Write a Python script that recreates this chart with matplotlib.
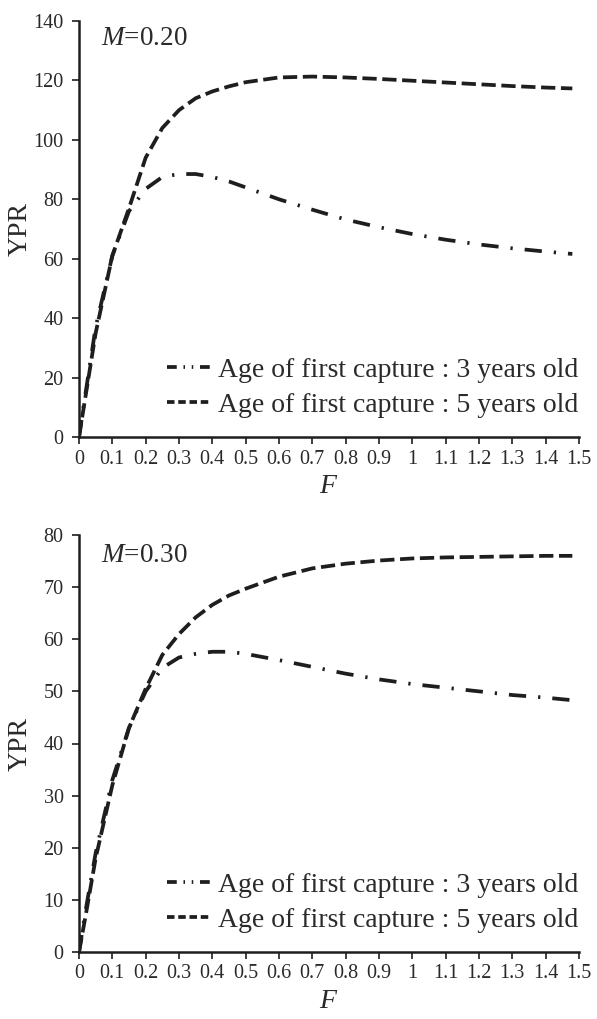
import numpy as np
import matplotlib
matplotlib.use("Agg")
import matplotlib.pyplot as plt
from matplotlib.lines import Line2D

# ── Data ──────────────────────────────────────────────────────────────────────
F = [0, 0.02, 0.05, 0.1, 0.15, 0.2, 0.25, 0.3, 0.35, 0.4, 0.45, 0.5,
     0.6, 0.7, 0.8, 0.9, 1.0, 1.1, 1.2, 1.3, 1.4, 1.48]

# M = 0.20
ypr_m20_age3 = [0, 15, 37, 61, 76, 83.5, 87.5, 88.5, 88.5, 87.5, 86, 84,
                80, 76.5, 73.2, 70.6, 68.3, 66.4, 64.8, 63.5, 62.4, 61.6]
ypr_m20_age5 = [0, 14, 35, 61, 77, 94, 104, 110, 114, 116.3, 118, 119.4,
                121, 121.3, 121, 120.5, 119.9, 119.3, 118.7, 118.1, 117.6, 117.3]

# M = 0.30
ypr_m30_age3 = [0, 8, 19, 33, 43, 50, 54.5, 56.5, 57.2, 57.6, 57.6, 57.2,
                56, 54.7, 53.4, 52.3, 51.4, 50.7, 50, 49.3, 48.8, 48.3]
ypr_m30_age5 = [0, 7, 18, 32, 43, 50.5, 57, 61, 64.2, 66.6, 68.4, 69.7,
                72, 73.6, 74.5, 75.1, 75.5, 75.7, 75.8, 75.9, 76, 76]

x_ticks = [round(0.1 * i, 1) for i in range(16)]
x_tick_labels = ["0" if t == 0 else ("1" if t == 1 else f"{t:g}") for t in x_ticks]

panels = [
    ("0.20", ypr_m20_age3, ypr_m20_age5, list(range(0, 141, 20)), 140),
    ("0.30", ypr_m30_age3, ypr_m30_age5, list(range(0, 81, 10)), 80),
]
labels = ["Age of first capture : 3 years old",
          "Age of first capture : 5 years old"]

# ── Style ─────────────────────────────────────────────────────────────────────
plt.rcParams["font.family"] = ["Liberation Serif", "DejaVu Serif"]
plt.rcParams["mathtext.fontset"] = "custom"
plt.rcParams["mathtext.rm"] = "Liberation Serif"
plt.rcParams["mathtext.it"] = "Liberation Serif:italic"

INK = "#1e1e1e"
TXT = "#2a2a2a"
LW = 2.7
DASH = (3.8, 1.5)
DASHDOT = (4.6, 3.2, 0.6, 3.2)

fig = plt.figure(figsize=(5.97, 10.19), dpi=100)
axes_rects = [
    [79 / 597, 1 - 437 / 1019, 500 / 597, 416 / 1019],
    [79 / 597, 1 - 952 / 1019, 500 / 597, 417 / 1019],
]

for rect, (m, age3, age5, yt, ymax) in zip(axes_rects, panels):
    ax = fig.add_axes(rect)
    ax.plot(F, age3, color=INK, lw=LW, dashes=DASHDOT)
    ax.plot(F, age5, color=INK, lw=LW, dashes=DASH)

    ax.set_xlim(0, 1.5)
    ax.set_ylim(0, ymax)
    ax.set_xticks(x_ticks)
    ax.set_xticklabels(x_tick_labels)
    ax.set_yticks(yt)
    ax.tick_params(axis="both", direction="out", length=5, width=1.2,
                   colors=INK, labelcolor=TXT, labelsize=14.5)
    ax.tick_params(axis="y", pad=6)
    ax.tick_params(axis="x", pad=4)
    for side in ["top", "right"]:
        ax.spines[side].set_visible(False)
    for side in ["left", "bottom"]:
        ax.spines[side].set_linewidth(1.8)
        ax.spines[side].set_color(INK)

    ax.set_ylabel("YPR", fontsize=20, color=TXT, va="center")
    ax.yaxis.set_label_coords(-0.118, 0.5)
    ax.set_xlabel("$F$", fontsize=20, color=TXT, labelpad=4)
    ax.text(0.044, 0.958 if ymax == 140 else 0.95, f"$M$=" + m,
            transform=ax.transAxes, fontsize=19.5, color=TXT, va="center", ha="left")

    handles = [
        Line2D([], [], color=INK, lw=LW, dashes=(2.6, 1.8, 0.4, 1.8, 0.4, 1.8)),
        Line2D([], [], color=INK, lw=LW, dashes=(2.0, 1.0)),
    ]
    ax.legend(handles, labels, loc="lower left", bbox_to_anchor=(0.148, 0.012),
              frameon=False, fontsize=20, handlelength=1.55, handletextpad=0.3,
              labelspacing=0.35, borderpad=0, labelcolor=TXT)

fig.savefig("out.png", dpi=100)
